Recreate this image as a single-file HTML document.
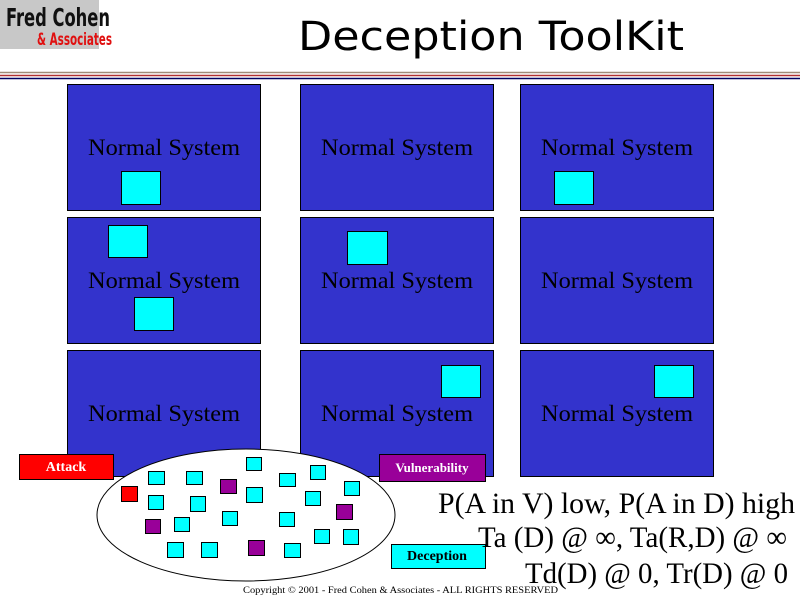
<!DOCTYPE html>
<html><head><meta charset="utf-8"><style>
html,body{margin:0;padding:0;background:#fff;}
</style></head><body>
<svg width="800" height="600" xmlns="http://www.w3.org/2000/svg" style="display:block">
<rect x="0" y="0" width="800" height="600" fill="#fff"/>
<rect x="0" y="0" width="99" height="49" fill="#c8c8c8"/>
<text x="6" y="26" font-family="'DejaVu Sans Condensed','DejaVu Sans',sans-serif" font-weight="bold" font-size="25" fill="#111" textLength="104" lengthAdjust="spacingAndGlyphs">Fred Cohen</text>
<text x="37" y="45" font-family="'DejaVu Sans Condensed','DejaVu Sans',sans-serif" font-weight="bold" font-size="17" fill="#e01010" textLength="75" lengthAdjust="spacingAndGlyphs">&amp; Associates</text>
<text x="298" y="50" font-family="'DejaVu Sans','Liberation Sans',sans-serif" font-size="40" fill="#000" textLength="386" lengthAdjust="spacingAndGlyphs">Deception ToolKit</text>
<line x1="0" y1="72.5" x2="800" y2="72.5" stroke="#a08c78" stroke-width="1.5"/>
<line x1="0" y1="75.5" x2="800" y2="75.5" stroke="#b03030" stroke-width="1.5"/>
<line x1="0" y1="78.5" x2="800" y2="78.5" stroke="#000060" stroke-width="1.5"/>
<g fill="#3333cc" stroke="#000" stroke-width="1">
<rect x="67.5" y="84.5" width="193" height="126"/>
<rect x="300.5" y="84.5" width="193" height="126"/>
<rect x="520.5" y="84.5" width="193" height="126"/>
<rect x="67.5" y="217.5" width="193" height="126"/>
<rect x="300.5" y="217.5" width="193" height="126"/>
<rect x="520.5" y="217.5" width="193" height="126"/>
<rect x="67.5" y="350.5" width="193" height="126"/>
<rect x="300.5" y="350.5" width="193" height="126"/>
<rect x="520.5" y="350.5" width="193" height="126"/>
</g>
<g font-family="'Liberation Serif',serif" font-size="23" fill="#000">
<text x="88" y="155" textLength="152" lengthAdjust="spacingAndGlyphs">Normal System</text>
<text x="321" y="155" textLength="152" lengthAdjust="spacingAndGlyphs">Normal System</text>
<text x="541" y="155" textLength="152" lengthAdjust="spacingAndGlyphs">Normal System</text>
<text x="88" y="288" textLength="152" lengthAdjust="spacingAndGlyphs">Normal System</text>
<text x="321" y="288" textLength="152" lengthAdjust="spacingAndGlyphs">Normal System</text>
<text x="541" y="288" textLength="152" lengthAdjust="spacingAndGlyphs">Normal System</text>
<text x="88" y="421" textLength="152" lengthAdjust="spacingAndGlyphs">Normal System</text>
<text x="321" y="421" textLength="152" lengthAdjust="spacingAndGlyphs">Normal System</text>
<text x="541" y="421" textLength="152" lengthAdjust="spacingAndGlyphs">Normal System</text>
</g>
<g fill="#00ffff" stroke="#000" stroke-width="1">
<rect x="121.5" y="171.5" width="39" height="33"/>
<rect x="554.5" y="171.5" width="39" height="33"/>
<rect x="108.5" y="225.5" width="39" height="32"/>
<rect x="134.5" y="297.5" width="39" height="33"/>
<rect x="347.5" y="231.5" width="40" height="33"/>
<rect x="441.5" y="365.5" width="39" height="32"/>
<rect x="654.5" y="365.5" width="39" height="32"/>
</g>
<ellipse cx="246" cy="515" rx="149" ry="66" fill="#fff" stroke="#000" stroke-width="1"/>
<g stroke="#000" stroke-width="1">
<rect x="121.5" y="486.5" width="16" height="15" fill="#ff0000"/>
<g fill="#00ffff">
<rect x="148.5" y="471.5" width="16" height="13"/>
<rect x="186.5" y="471.5" width="16" height="13"/>
<rect x="246.5" y="457.5" width="15" height="13"/>
<rect x="279.5" y="473.5" width="16" height="13"/>
<rect x="310.5" y="465.5" width="15" height="14"/>
<rect x="344.5" y="481.5" width="15" height="14"/>
<rect x="148.5" y="495.5" width="15" height="14"/>
<rect x="190.5" y="496.5" width="15" height="15"/>
<rect x="246.5" y="487.5" width="16" height="15"/>
<rect x="305.5" y="491.5" width="15" height="14"/>
<rect x="174.5" y="517.5" width="15" height="14"/>
<rect x="222.5" y="511.5" width="15" height="14"/>
<rect x="279.5" y="512.5" width="15" height="14"/>
<rect x="314.5" y="529.5" width="15" height="14"/>
<rect x="343.5" y="529.5" width="15" height="15"/>
<rect x="167.5" y="542.5" width="16" height="15"/>
<rect x="201.5" y="542.5" width="16" height="15"/>
<rect x="284.5" y="543.5" width="16" height="14"/>
</g>
<g fill="#990099">
<rect x="220.5" y="479.5" width="16" height="14"/>
<rect x="336.5" y="504.5" width="16" height="15"/>
<rect x="145.5" y="519.5" width="15" height="14"/>
<rect x="248.5" y="540.5" width="16" height="15"/>
</g>
</g>
<rect x="19.5" y="454.5" width="94" height="25" fill="#ff0000" stroke="#000"/>
<text x="66" y="471" text-anchor="middle" font-family="'Liberation Serif',serif" font-weight="bold" font-size="14" fill="#fff">Attack</text>
<rect x="379.5" y="454.5" width="106" height="27" fill="#990099" stroke="#000"/>
<text x="432" y="472" text-anchor="middle" font-family="'Liberation Serif',serif" font-weight="bold" font-size="13" fill="#fff">Vulnerability</text>
<rect x="391.5" y="544.5" width="94" height="24" fill="#00ffff" stroke="#000"/>
<text x="437" y="560" text-anchor="middle" font-family="'Liberation Serif',serif" font-weight="bold" font-size="14" fill="#000">Deception</text>
<g font-family="'Liberation Serif',serif" font-size="30" fill="#000">
<text x="438" y="513" textLength="357" lengthAdjust="spacingAndGlyphs">P(A in V) low, P(A in D) high</text>
<text x="478" y="547" textLength="309" lengthAdjust="spacingAndGlyphs">Ta (D) @ ∞,  Ta(R,D) @ ∞</text>
<text x="525" y="583" textLength="263" lengthAdjust="spacingAndGlyphs">Td(D) @ 0, Tr(D) @ 0</text>
</g>
<text x="243" y="593" font-family="'Liberation Serif',serif" font-size="9" fill="#000" textLength="315" lengthAdjust="spacingAndGlyphs">Copyright © 2001 - Fred Cohen &amp; Associates - ALL RIGHTS RESERVED</text>
</svg>
</body></html>
